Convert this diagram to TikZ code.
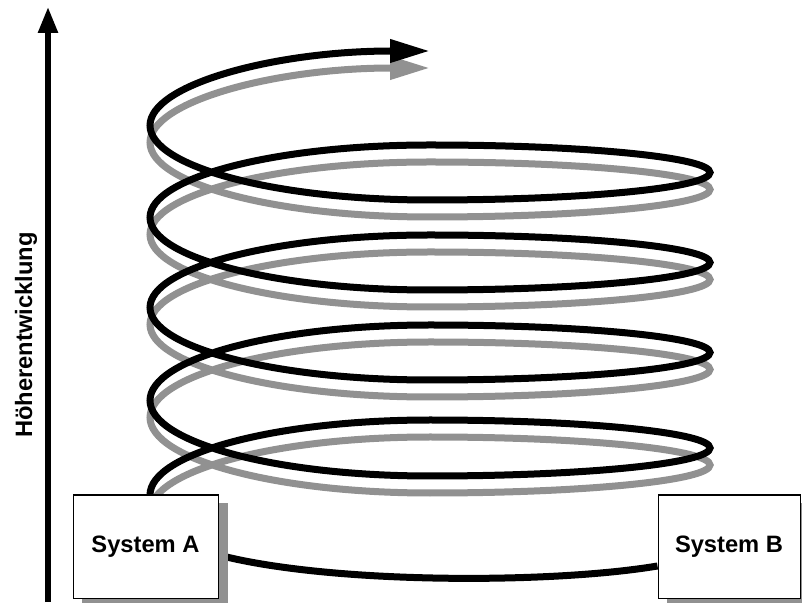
\documentclass[tikz,border=0pt]{standalone}
\usepackage{fontspec}
\setmainfont{Liberation Sans}
\usetikzlibrary{arrows.meta,calc,backgrounds}

\definecolor{shadowgray}{gray}{0.57}

% one pass of the rising helix, starting at the given point
\newcommand\helixpath[1]{(#1)
  arc[start angle=180,end angle=90,x radius=280pt,y radius=75pt]
  arc[start angle=90,end angle=-90,x radius=280pt,y radius=28pt]
  arc[start angle=270,end angle=90,x radius=280pt,y radius=75.5pt]
  arc[start angle=90,end angle=-90,x radius=280pt,y radius=27.5pt]
  arc[start angle=270,end angle=90,x radius=280pt,y radius=72.5pt]
  arc[start angle=90,end angle=-90,x radius=280pt,y radius=27.5pt]
  arc[start angle=270,end angle=90,x radius=280pt,y radius=72.5pt]
  arc[start angle=90,end angle=-90,x radius=280pt,y radius=27.5pt]
  arc[start angle=270,end angle=90,x radius=280pt,y radius=74.5pt]}

\tikzset{
  helixline/.style={line width=7pt,-{Triangle[length=40pt,width=22pt]}},
  systembox/.style={draw=black,line width=1pt,fill=white,minimum width=145pt,
    minimum height=103pt,inner sep=0pt,font=\bfseries\fontsize{23.7}{28}\selectfont},
  boxshadow/.style={fill=shadowgray,draw=none},
  axisline/.style={line width=5.5pt,-{Triangle[length=26pt,width=19pt]}},
  linkline/.style={line width=7pt},
}

\begin{document}
\begin{tikzpicture}[x=1pt,y=1pt]
  \useasboundingbox (0,0) rectangle (802,602);
  \clip (0,0) rectangle (802,602);

  % vertical axis with its label
  \coordinate (axisbottom) at (48,0);
  \coordinate (axistop) at (48,595);
  \draw[axisline] (axisbottom) -- (axistop);
  \node[rotate=90,anchor=base,font=\bfseries\fontsize{23.7}{28}\selectfont]
    (axislabel) at (32,267) {Höherentwicklung};

  % helix: grey shadow first, black line on top
  \coordinate (helixstart) at (150,107);
  \draw[helixline,draw=shadowgray] \helixpath{[yshift=-17pt]helixstart};
  \draw[helixline,draw=black] \helixpath{helixstart};

  % the two systems
  \node[systembox] (A) at (145.5,55.5) {System A};
  \node[systembox,minimum width=142pt] (B) at (729,55.5) {System B};

  \begin{pgfonlayer}{background}
    \fill[white] (0,0) rectangle (802,602);
    % direct link between the systems
    \draw[linkline] ([yshift=-8.5pt]A.east) .. controls (330,18) and (550,18) .. ([yshift=-19.5pt]B.west);
    % box shadows
    \fill[boxshadow] ([shift={(9,-8)}]A.south west) rectangle ([shift={(9,-8)}]A.north east);
    \fill[boxshadow] ([shift={(9,-8)}]B.south west) rectangle ([shift={(9,-8)}]B.north east);
  \end{pgfonlayer}
\end{tikzpicture}
\end{document}
